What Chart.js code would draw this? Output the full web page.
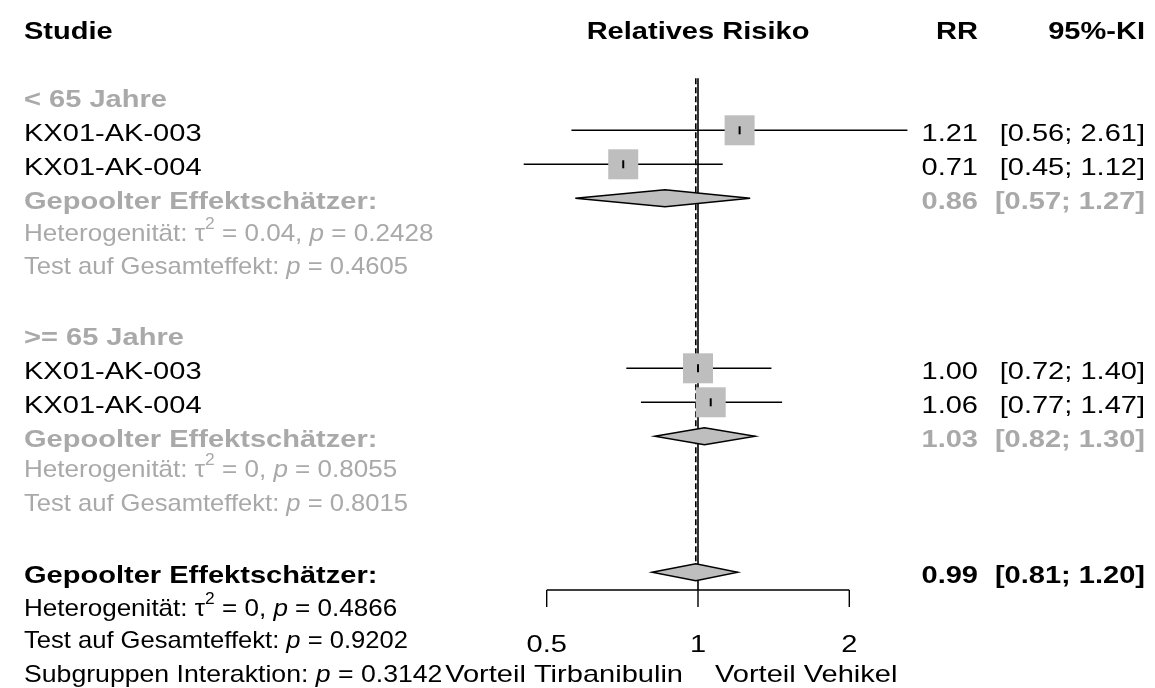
<!DOCTYPE html>
<html>
<head>
<meta charset="utf-8">
<script src="https://cdn.jsdelivr.net/npm/chart.js@4"></script>
<style>
  html, body { margin: 0; padding: 0; background: #fff; }
  #wrap { width: 1155px; height: 688px; position: relative; }
</style>
</head>
<body>
<div id="wrap"><canvas id="forestChart"></canvas></div>
<script>
// Studien (Zeilen im Plot)
const studies = ['KX01-AK-003', 'KX01-AK-004', 'KX01-AK-003', 'KX01-AK-004'];
const studyRows = [1, 2, 8, 9];
const rr = [1.21, 0.71, 1.00, 1.06];
const lower = [0.56, 0.45, 0.72, 0.77];
const upper = [2.61, 1.12, 1.40, 1.47];

// Subgruppen + Gesamt
const subgroups = ['< 65 Jahre', '>= 65 Jahre'];
const subgroupRows = [0, 7];
const pooledRows = [3, 10, 14];
const pooledRR = [0.86, 1.03, 0.99];
const pooledLower = [0.57, 0.82, 0.81];
const pooledUpper = [1.27, 1.30, 1.20];
const tau2 = ['0.04', '0', '0'];
const pHet = ['0.2428', '0.8055', '0.4866'];
const pOverall = ['0.4605', '0.8015', '0.9202'];
const hetRows = [3.94, 10.9, 14.98];
const testRows = [4.92, 11.89, 15.93];
const pInteraction = '0.3142';
const interactionRow = 16.93;

// Achse
const xTicks = [0.5, 1, 2];
const xTickLabels = ['0.5', '1', '2'];
const favourLabels = ['Vorteil Tirbanibulin', 'Vorteil Vehikel'];

const FONT = '"Liberation Sans", Arial, sans-serif';
const GREY_TXT = '#a9a9a9';
const GREY_FILL = '#bebebe';
const SX = 1.21; // Text ist im Original horizontal gestreckt

function fmt(v) { return v.toFixed(2); }

function drawRich(ctx, parts, x, y, align, color, sx) {
  sx = sx || SX;
  let total = 0;
  parts.forEach(p => {
    ctx.font = p.f;
    p.w = ctx.measureText(p.t).width * sx;
    total += p.w;
  });
  let cx = align === 'right' ? x - total : (align === 'center' ? x - total / 2 : x);
  parts.forEach(p => {
    ctx.save();
    ctx.font = p.f;
    ctx.fillStyle = color;
    ctx.textAlign = 'left';
    ctx.textBaseline = 'alphabetic';
    ctx.translate(cx, y + (p.dy || 0));
    ctx.scale(sx, 1);
    ctx.fillText(p.t, 0, 0);
    ctx.restore();
    cx += p.w;
  });
}

const N = '24px ' + FONT;
const B = 'bold 24px ' + FONT;
const I = 'italic 24px ' + FONT;
const SUP = '16px ' + FONT;

const forestPlugin = {
  id: 'forest',
  beforeDatasetsDraw(chart) {
    const ctx = chart.ctx;
    const xs = chart.scales.x, ys = chart.scales.y;
    const top = ys.getPixelForValue(0) - 18;
    const axisY = ys.getPixelForValue(14) + 17.7;
    const x1 = xs.getPixelForValue(1);
    const xp = xs.getPixelForValue(pooledRR[2]);
    ctx.save();
    ctx.strokeStyle = '#000';
    // Nulllinie
    ctx.lineWidth = 1.6;
    ctx.beginPath();
    ctx.moveTo(x1, top);
    ctx.lineTo(x1, axisY);
    ctx.stroke();
    // Gesamteffekt gestrichelt
    ctx.setLineDash([6, 3]);
    ctx.beginPath();
    ctx.moveTo(xp, top);
    ctx.lineTo(xp, ys.getPixelForValue(14) - 8);
    ctx.stroke();
    ctx.setLineDash([]);
    // x-Achse
    ctx.lineWidth = 1.4;
    ctx.beginPath();
    ctx.moveTo(xs.getPixelForValue(xTicks[0]), axisY);
    ctx.lineTo(xs.getPixelForValue(xTicks[xTicks.length - 1]), axisY);
    xTicks.forEach(t => {
      const px = xs.getPixelForValue(t);
      ctx.moveTo(px, axisY);
      ctx.lineTo(px, axisY + 17);
    });
    ctx.stroke();
    ctx.restore();
  },
  afterDatasetsDraw(chart) {
    const ctx = chart.ctx;
    const xs = chart.scales.x, ys = chart.scales.y;
    pooledRows.forEach((r, i) => {
      const y = ys.getPixelForValue(r);
      const xl = xs.getPixelForValue(pooledLower[i]);
      const xm = xs.getPixelForValue(pooledRR[i]);
      const xu = xs.getPixelForValue(pooledUpper[i]);
      ctx.save();
      ctx.beginPath();
      ctx.moveTo(xl, y);
      ctx.lineTo(xm, y - 8.5);
      ctx.lineTo(xu, y);
      ctx.lineTo(xm, y + 8.5);
      ctx.closePath();
      ctx.fillStyle = GREY_FILL;
      ctx.fill();
      ctx.strokeStyle = '#000';
      ctx.lineWidth = 1.4;
      ctx.stroke();
      ctx.restore();
    });
  },
  afterDraw(chart) {
    const ctx = chart.ctx;
    const xs = chart.scales.x, ys = chart.scales.y;
    const base = r => ys.getPixelForValue(r) + 10.5;
    const L = 24, RRX = 978, CIX = 1145;
    const x1 = xs.getPixelForValue(1);

    // Kopfzeile
    drawRich(ctx, [{t: 'Studie', f: B}], L, base(-2), 'left', '#000');
    drawRich(ctx, [{t: 'Relatives Risiko', f: B}], x1, base(-2), 'center', '#000');
    drawRich(ctx, [{t: 'RR', f: B}], RRX, base(-2), 'right', '#000');
    drawRich(ctx, [{t: '95%-KI', f: B}], CIX, base(-2), 'right', '#000');

    subgroups.forEach((s, i) => {
      drawRich(ctx, [{t: s, f: B}], L, base(subgroupRows[i]), 'left', GREY_TXT);
    });

    studies.forEach((s, i) => {
      const y = base(studyRows[i]);
      drawRich(ctx, [{t: s, f: N}], L, y, 'left', '#000');
      drawRich(ctx, [{t: fmt(rr[i]), f: N}], RRX, y, 'right', '#000');
      drawRich(ctx, [{t: '[' + fmt(lower[i]) + '; ' + fmt(upper[i]) + ']', f: N}], CIX, y, 'right', '#000');
    });

    pooledRows.forEach((r, i) => {
      const col = i < 2 ? GREY_TXT : '#000';
      const y = base(r);
      drawRich(ctx, [{t: 'Gepoolter Effektschätzer:', f: B}], L, y, 'left', col);
      drawRich(ctx, [{t: fmt(pooledRR[i]), f: B}], RRX, y, 'right', col);
      drawRich(ctx, [{t: '[' + fmt(pooledLower[i]) + '; ' + fmt(pooledUpper[i]) + ']', f: B}], CIX, y, 'right', col);
      // Formelzeilen sind im Original schmaler gesetzt
      drawRich(ctx, [
        {t: 'Heterogenität: τ', f: N},
        {t: '2', f: SUP, dy: -12},
        {t: ' = ' + tau2[i] + ', ', f: N},
        {t: 'p', f: I},
        {t: ' = ' + pHet[i], f: N}
      ], L, base(hetRows[i]), 'left', col, 1.085);
      drawRich(ctx, [
        {t: 'Test auf Gesamteffekt: ', f: N},
        {t: 'p', f: I},
        {t: ' = ' + pOverall[i], f: N}
      ], L, base(testRows[i]), 'left', col, 1.065);
    });

    drawRich(ctx, [
      {t: 'Subgruppen Interaktion: ', f: N},
      {t: 'p', f: I},
      {t: ' = ' + pInteraction, f: N}
    ], L, base(interactionRow), 'left', '#000', 1.11);

    // Achsenbeschriftung
    const axisY = ys.getPixelForValue(14) + 17.7;
    xTicks.forEach((t, i) => {
      drawRich(ctx, [{t: xTickLabels[i], f: N}], xs.getPixelForValue(t), axisY + 62, 'center', '#000');
    });
    drawRich(ctx, [{t: favourLabels[0], f: N}], x1 - 15, axisY + 92, 'right', '#000');
    drawRich(ctx, [{t: favourLabels[1], f: N}], x1 + 17, axisY + 92, 'left', '#000');
  }
};

// Skalen: 0.5 -> 547, 1 -> 698, 2 -> 849 px
const PX_PER_DOUBLING = 151.3;
const X1_PX = 698;
const xMin = Math.pow(2, -X1_PX / PX_PER_DOUBLING);
const xMax = Math.pow(2, (1155 - X1_PX) / PX_PER_DOUBLING);
const yMin = -96.3 / 34;
const yMax = yMin + 688 / 34;

const ciSets = studies.map((s, i) => ({
  label: s,
  showLine: true,
  data: [{x: lower[i], y: studyRows[i]}, {x: upper[i], y: studyRows[i]}],
  borderColor: '#000',
  borderWidth: 1.5,
  pointRadius: 0,
  order: 3
}));

const ctxForest = document.getElementById('forestChart').getContext('2d');
const forestChart = new Chart(ctxForest, {
  type: 'scatter',
  data: {
    datasets: [
      ...ciSets,
      {
        label: 'RR',
        data: studyRows.map((r, i) => ({x: rr[i], y: r})),
        pointStyle: 'rect',
        pointRadius: 21.2,
        backgroundColor: GREY_FILL,
        borderWidth: 0,
        order: 2
      },
      {
        label: 'RR Marker',
        data: studyRows.map((r, i) => ({x: rr[i], y: r})),
        pointStyle: 'line',
        rotation: 90,
        pointRadius: 4,
        borderColor: '#000',
        borderWidth: 2,
        order: 1
      }
    ]
  },
  options: {
    responsive: true,
    maintainAspectRatio: false,
    animation: false,
    events: [],
    layout: { padding: 0, autoPadding: false },
    plugins: {
      legend: { display: false },
      tooltip: { enabled: false }
    },
    scales: {
      x: {
        type: 'logarithmic',
        display: false,
        bounds: 'data',
        min: xMin,
        max: xMax
      },
      y: {
        type: 'linear',
        display: false,
        reverse: true,
        bounds: 'data',
        min: yMin,
        max: yMax
      }
    }
  },
  plugins: [forestPlugin]
});
</script>
</body>
</html>
